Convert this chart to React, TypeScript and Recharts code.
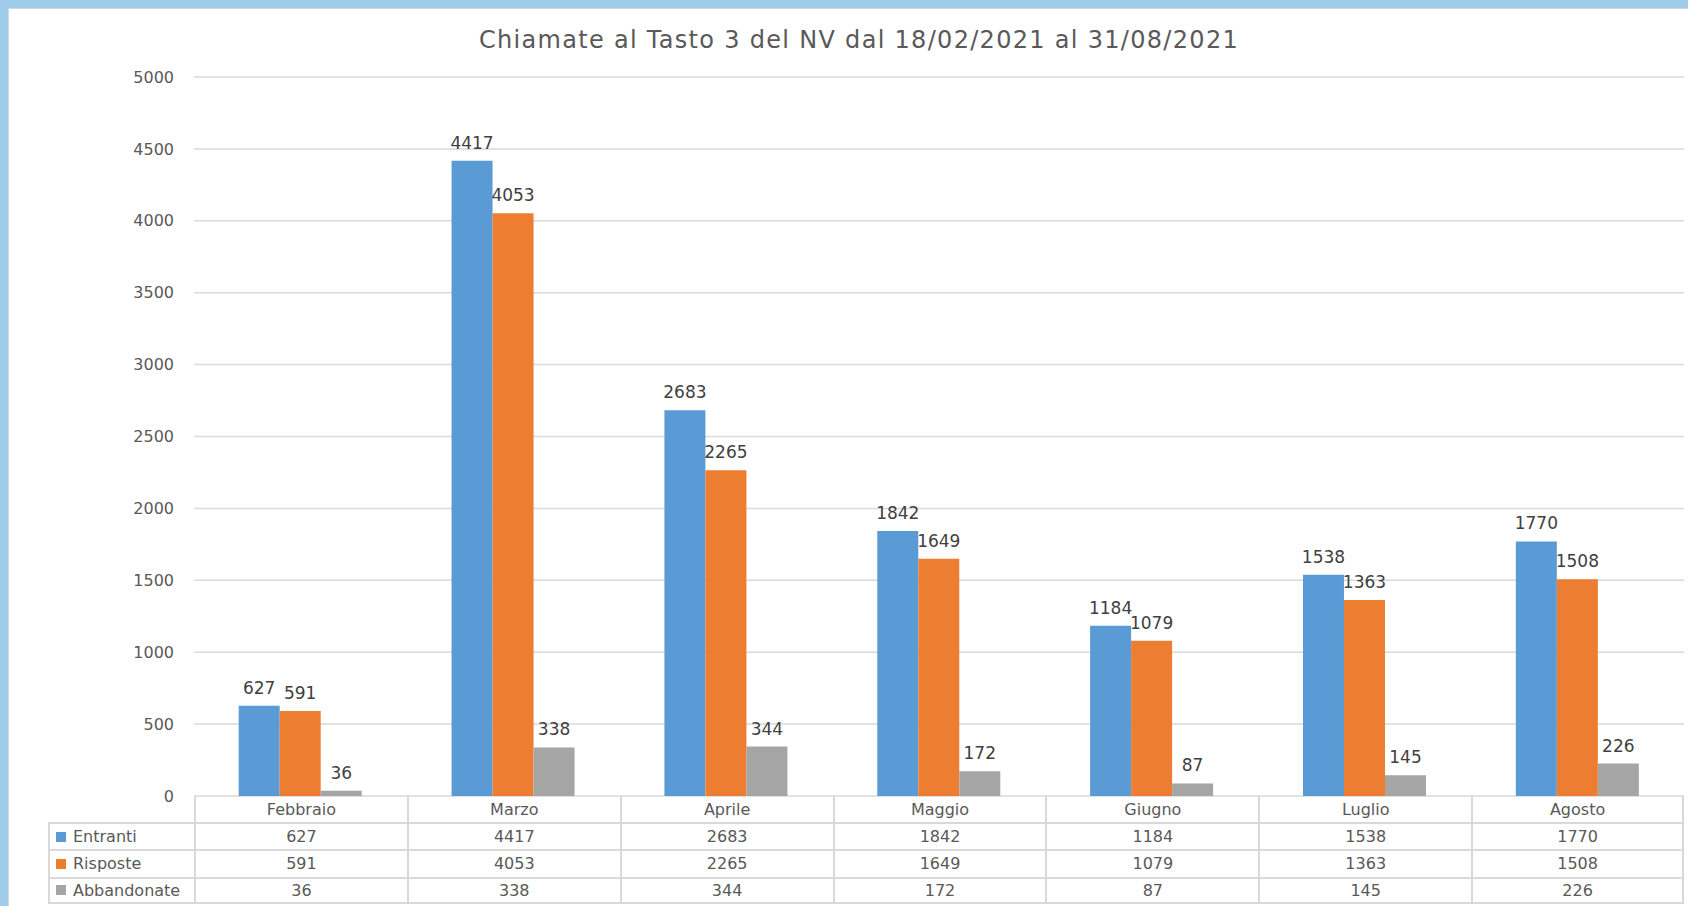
import { BarChart, Bar, XAxis, YAxis, CartesianGrid, LabelList } from "recharts";

const months = ["Febbraio", "Marzo", "Aprile", "Maggio", "Giugno", "Luglio", "Agosto"];
const entranti = [627, 4417, 2683, 1842, 1184, 1538, 1770];
const risposte = [591, 4053, 2265, 1649, 1079, 1363, 1508];
const abbandonate = [36, 338, 344, 172, 87, 145, 226];
const yTicks = [0, 500, 1000, 1500, 2000, 2500, 3000, 3500, 4000, 4500, 5000];

const seriesRows = [
  { name: "Entranti", color: "#5B9BD5", values: entranti },
  { name: "Risposte", color: "#ED7D31", values: risposte },
  { name: "Abbandonate", color: "#A5A5A5", values: abbandonate },
];

const chartData = months.map((m, i) => ({
  month: m,
  entranti: entranti[i],
  risposte: risposte[i],
  abbandonate: abbandonate[i],
}));

const FONT = "'DejaVu Sans', sans-serif";
const TEXT = "#595959";
const LINE = "#D9D9D9";

// table geometry
const plotLeft = 194;
const plotRight = 1684;
const legendLeft = 48;
const colW = (plotRight - plotLeft) / months.length;
const headerTop = 796;
const headerH = 26;
const rowH = 27.3;

function DataTable() {
  const cells: JSX.Element[] = [];
  months.forEach((m, i) => {
    cells.push(
      <div
        key={"h" + i}
        style={{
          position: "absolute",
          left: plotLeft + i * colW,
          top: headerTop,
          width: colW,
          height: headerH,
          borderLeft: `2px solid ${LINE}`,
          borderRight: i === months.length - 1 ? `2px solid ${LINE}` : undefined,
          boxSizing: "border-box",
          display: "flex",
          alignItems: "center",
          justifyContent: "center",
        }}
      >
        {m}
      </div>
    );
  });
  seriesRows.forEach((s, r) => {
    const top = headerTop + headerH + r * rowH;
    cells.push(
      <div
        key={"l" + r}
        style={{
          position: "absolute",
          left: legendLeft,
          top,
          width: plotLeft - legendLeft,
          height: rowH,
          borderLeft: `2px solid ${LINE}`,
          borderTop: `2px solid ${LINE}`,
          borderBottom: r === seriesRows.length - 1 ? `2px solid ${LINE}` : undefined,
          boxSizing: "border-box",
          display: "flex",
          alignItems: "center",
          paddingLeft: 6,
        }}
      >
        <span style={{ width: 10, height: 10, background: s.color, marginRight: 7, display: "inline-block" }} />
        {s.name}
      </div>
    );
    s.values.forEach((v, i) => {
      cells.push(
        <div
          key={"c" + r + "-" + i}
          style={{
            position: "absolute",
            left: plotLeft + i * colW,
            top,
            width: colW,
            height: rowH,
            borderLeft: `2px solid ${LINE}`,
            borderTop: `2px solid ${LINE}`,
            borderRight: i === months.length - 1 ? `2px solid ${LINE}` : undefined,
            borderBottom: r === seriesRows.length - 1 ? `2px solid ${LINE}` : undefined,
            boxSizing: "border-box",
            display: "flex",
            alignItems: "center",
            justifyContent: "center",
          }}
        >
          {v}
        </div>
      );
    });
  });
  return <>{cells}</>;
}

export default function App() {
  return (
    <div
      style={{
        position: "absolute",
        left: 0,
        top: 0,
        width: 1688,
        height: 906,
        background: "#A0CCEB",
        overflow: "hidden",
        fontFamily: FONT,
        color: TEXT,
        fontSize: 16,
      }}
    >
      <div
        style={{
          position: "absolute",
          left: 8,
          top: 8,
          width: 1680,
          height: 898,
          background: "#fff",
          borderLeft: "1px solid #D6D6D6",
          borderTop: "1px solid #D6D6D6",
          boxSizing: "border-box",
        }}
      />
      <div
        style={{
          position: "absolute",
          left: 859,
          top: 28,
          transform: "translateX(-50%)",
          whiteSpace: "nowrap",
          fontSize: 24,
          letterSpacing: 1.3,
          lineHeight: "24px",
          color: TEXT,
        }}
      >
        Chiamate al Tasto 3 del NV dal 18/02/2021 al 31/08/2021
      </div>
      <div style={{ position: "absolute", left: 0, top: 0 }}>
        <BarChart
          width={1688}
          height={806}
          data={chartData}
          margin={{ top: 77, right: 4, left: 134, bottom: 10 }}
          barCategoryGap="21%"
          barGap={0}
        >
          <CartesianGrid vertical={false} stroke={LINE} strokeWidth={1.5} />
          <XAxis dataKey="month" hide />
          <YAxis
            width={60}
            domain={[0, 5000]}
            ticks={yTicks}
            axisLine={false}
            tickLine={false}
            tickMargin={14}
            tick={{ fontSize: 16, fill: TEXT, fontFamily: FONT }}
          />
          <Bar dataKey="entranti" fill="#5B9BD5" isAnimationActive={false}>
            <LabelList dataKey="entranti" position="top" offset={12} fill="#404040" fontSize={17} fontFamily={FONT} />
          </Bar>
          <Bar dataKey="risposte" fill="#ED7D31" isAnimationActive={false}>
            <LabelList dataKey="risposte" position="top" offset={12} fill="#404040" fontSize={17} fontFamily={FONT} />
          </Bar>
          <Bar dataKey="abbandonate" fill="#A5A5A5" isAnimationActive={false}>
            <LabelList dataKey="abbandonate" position="top" offset={12} fill="#404040" fontSize={17} fontFamily={FONT} />
          </Bar>
        </BarChart>
      </div>
      <DataTable />
    </div>
  );
}
